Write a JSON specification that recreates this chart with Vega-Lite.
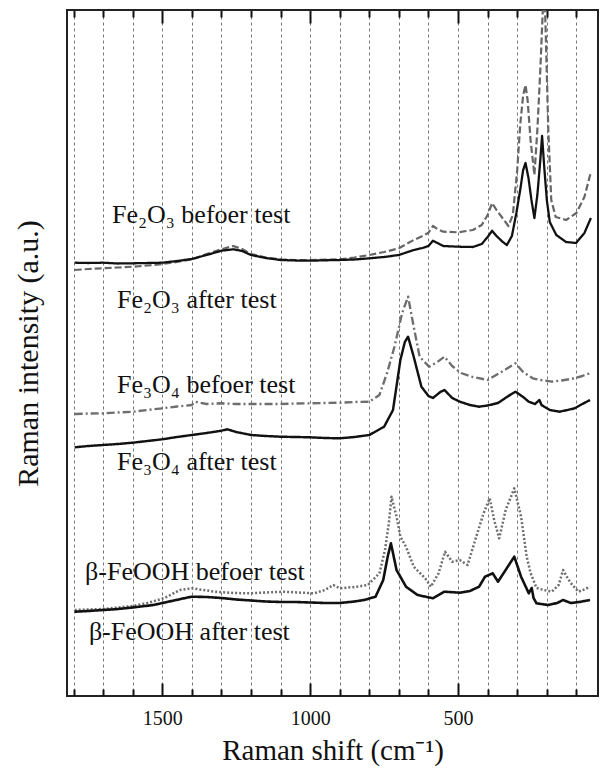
{
  "$schema": "https://vega.github.io/schema/vega-lite/v6.json",
  "width": 531,
  "height": 686,
  "autosize": {"type": "none"},
  "padding": {"left": 67, "top": 10, "right": 3, "bottom": 73},
  "background": "white",
  "config": {
    "view": {"stroke": "#222", "strokeWidth": 2},
    "font": "Times New Roman, Liberation Serif, serif"
  },
  "datasets": {
    "spectra": [
      {"s": "Fe2O3 before", "k": "before", "w": 1796, "v": 426},
      {"s": "Fe2O3 before", "k": "before", "w": 1750, "v": 427},
      {"s": "Fe2O3 before", "k": "before", "w": 1700, "v": 427.7},
      {"s": "Fe2O3 before", "k": "before", "w": 1650, "v": 428.5},
      {"s": "Fe2O3 before", "k": "before", "w": 1600, "v": 429.3},
      {"s": "Fe2O3 before", "k": "before", "w": 1550, "v": 430.5},
      {"s": "Fe2O3 before", "k": "before", "w": 1500, "v": 432},
      {"s": "Fe2O3 before", "k": "before", "w": 1450, "v": 434},
      {"s": "Fe2O3 before", "k": "before", "w": 1400, "v": 436.7},
      {"s": "Fe2O3 before", "k": "before", "w": 1350, "v": 442},
      {"s": "Fe2O3 before", "k": "before", "w": 1300, "v": 446.7},
      {"s": "Fe2O3 before", "k": "before", "w": 1260, "v": 450},
      {"s": "Fe2O3 before", "k": "before", "w": 1230, "v": 447},
      {"s": "Fe2O3 before", "k": "before", "w": 1200, "v": 442},
      {"s": "Fe2O3 before", "k": "before", "w": 1150, "v": 438.5},
      {"s": "Fe2O3 before", "k": "before", "w": 1100, "v": 436.7},
      {"s": "Fe2O3 before", "k": "before", "w": 1050, "v": 436},
      {"s": "Fe2O3 before", "k": "before", "w": 1000, "v": 436},
      {"s": "Fe2O3 before", "k": "before", "w": 950, "v": 436.3},
      {"s": "Fe2O3 before", "k": "before", "w": 900, "v": 436.7},
      {"s": "Fe2O3 before", "k": "before", "w": 850, "v": 438.5},
      {"s": "Fe2O3 before", "k": "before", "w": 800, "v": 441},
      {"s": "Fe2O3 before", "k": "before", "w": 750, "v": 444},
      {"s": "Fe2O3 before", "k": "before", "w": 700, "v": 447.7},
      {"s": "Fe2O3 before", "k": "before", "w": 650, "v": 456},
      {"s": "Fe2O3 before", "k": "before", "w": 620, "v": 460},
      {"s": "Fe2O3 before", "k": "before", "w": 600, "v": 463.3},
      {"s": "Fe2O3 before", "k": "before", "w": 585, "v": 470},
      {"s": "Fe2O3 before", "k": "before", "w": 570, "v": 467},
      {"s": "Fe2O3 before", "k": "before", "w": 550, "v": 464.3},
      {"s": "Fe2O3 before", "k": "before", "w": 500, "v": 463.7},
      {"s": "Fe2O3 before", "k": "before", "w": 450, "v": 466},
      {"s": "Fe2O3 before", "k": "before", "w": 420, "v": 471},
      {"s": "Fe2O3 before", "k": "before", "w": 400, "v": 481},
      {"s": "Fe2O3 before", "k": "before", "w": 385, "v": 493},
      {"s": "Fe2O3 before", "k": "before", "w": 370, "v": 486},
      {"s": "Fe2O3 before", "k": "before", "w": 350, "v": 478},
      {"s": "Fe2O3 before", "k": "before", "w": 330, "v": 470},
      {"s": "Fe2O3 before", "k": "before", "w": 315, "v": 481},
      {"s": "Fe2O3 before", "k": "before", "w": 300, "v": 526},
      {"s": "Fe2O3 before", "k": "before", "w": 290, "v": 571},
      {"s": "Fe2O3 before", "k": "before", "w": 280, "v": 601},
      {"s": "Fe2O3 before", "k": "before", "w": 272, "v": 611},
      {"s": "Fe2O3 before", "k": "before", "w": 265, "v": 596},
      {"s": "Fe2O3 before", "k": "before", "w": 255, "v": 556},
      {"s": "Fe2O3 before", "k": "before", "w": 242, "v": 521},
      {"s": "Fe2O3 before", "k": "before", "w": 232, "v": 566},
      {"s": "Fe2O3 before", "k": "before", "w": 222, "v": 626},
      {"s": "Fe2O3 before", "k": "before", "w": 215, "v": 676},
      {"s": "Fe2O3 before", "k": "before", "w": 209, "v": 716},
      {"s": "Fe2O3 before", "k": "before", "w": 203, "v": 656},
      {"s": "Fe2O3 before", "k": "before", "w": 195, "v": 566},
      {"s": "Fe2O3 before", "k": "before", "w": 185, "v": 496},
      {"s": "Fe2O3 before", "k": "before", "w": 170, "v": 479},
      {"s": "Fe2O3 before", "k": "before", "w": 135, "v": 476},
      {"s": "Fe2O3 before", "k": "before", "w": 100, "v": 483},
      {"s": "Fe2O3 before", "k": "before", "w": 73, "v": 499},
      {"s": "Fe2O3 before", "k": "before", "w": 51, "v": 524},

      {"s": "Fe2O3 after", "k": "after", "w": 1796, "v": 433.3},
      {"s": "Fe2O3 after", "k": "after", "w": 1750, "v": 433},
      {"s": "Fe2O3 after", "k": "after", "w": 1700, "v": 433.3},
      {"s": "Fe2O3 after", "k": "after", "w": 1650, "v": 432.5},
      {"s": "Fe2O3 after", "k": "after", "w": 1600, "v": 432.7},
      {"s": "Fe2O3 after", "k": "after", "w": 1550, "v": 433},
      {"s": "Fe2O3 after", "k": "after", "w": 1500, "v": 433.3},
      {"s": "Fe2O3 after", "k": "after", "w": 1450, "v": 435},
      {"s": "Fe2O3 after", "k": "after", "w": 1400, "v": 437},
      {"s": "Fe2O3 after", "k": "after", "w": 1350, "v": 441},
      {"s": "Fe2O3 after", "k": "after", "w": 1300, "v": 445.3},
      {"s": "Fe2O3 after", "k": "after", "w": 1260, "v": 446.7},
      {"s": "Fe2O3 after", "k": "after", "w": 1230, "v": 445},
      {"s": "Fe2O3 after", "k": "after", "w": 1200, "v": 441},
      {"s": "Fe2O3 after", "k": "after", "w": 1150, "v": 438},
      {"s": "Fe2O3 after", "k": "after", "w": 1100, "v": 436},
      {"s": "Fe2O3 after", "k": "after", "w": 1050, "v": 435.5},
      {"s": "Fe2O3 after", "k": "after", "w": 1000, "v": 435.3},
      {"s": "Fe2O3 after", "k": "after", "w": 950, "v": 435.7},
      {"s": "Fe2O3 after", "k": "after", "w": 900, "v": 436},
      {"s": "Fe2O3 after", "k": "after", "w": 850, "v": 436.5},
      {"s": "Fe2O3 after", "k": "after", "w": 800, "v": 437.7},
      {"s": "Fe2O3 after", "k": "after", "w": 750, "v": 439},
      {"s": "Fe2O3 after", "k": "after", "w": 700, "v": 441},
      {"s": "Fe2O3 after", "k": "after", "w": 650, "v": 446},
      {"s": "Fe2O3 after", "k": "after", "w": 620, "v": 448},
      {"s": "Fe2O3 after", "k": "after", "w": 600, "v": 450},
      {"s": "Fe2O3 after", "k": "after", "w": 585, "v": 455.3},
      {"s": "Fe2O3 after", "k": "after", "w": 570, "v": 453},
      {"s": "Fe2O3 after", "k": "after", "w": 550, "v": 450},
      {"s": "Fe2O3 after", "k": "after", "w": 500, "v": 449.3},
      {"s": "Fe2O3 after", "k": "after", "w": 450, "v": 449},
      {"s": "Fe2O3 after", "k": "after", "w": 420, "v": 452},
      {"s": "Fe2O3 after", "k": "after", "w": 400, "v": 459},
      {"s": "Fe2O3 after", "k": "after", "w": 385, "v": 465.3},
      {"s": "Fe2O3 after", "k": "after", "w": 370, "v": 460},
      {"s": "Fe2O3 after", "k": "after", "w": 350, "v": 454.3},
      {"s": "Fe2O3 after", "k": "after", "w": 335, "v": 451},
      {"s": "Fe2O3 after", "k": "after", "w": 318, "v": 460},
      {"s": "Fe2O3 after", "k": "after", "w": 303, "v": 483},
      {"s": "Fe2O3 after", "k": "after", "w": 290, "v": 506},
      {"s": "Fe2O3 after", "k": "after", "w": 280, "v": 526},
      {"s": "Fe2O3 after", "k": "after", "w": 272, "v": 533},
      {"s": "Fe2O3 after", "k": "after", "w": 262, "v": 518},
      {"s": "Fe2O3 after", "k": "after", "w": 252, "v": 496},
      {"s": "Fe2O3 after", "k": "after", "w": 242, "v": 478},
      {"s": "Fe2O3 after", "k": "after", "w": 232, "v": 501},
      {"s": "Fe2O3 after", "k": "after", "w": 222, "v": 536},
      {"s": "Fe2O3 after", "k": "after", "w": 216, "v": 560},
      {"s": "Fe2O3 after", "k": "after", "w": 208, "v": 526},
      {"s": "Fe2O3 after", "k": "after", "w": 200, "v": 496},
      {"s": "Fe2O3 after", "k": "after", "w": 190, "v": 474},
      {"s": "Fe2O3 after", "k": "after", "w": 168, "v": 461},
      {"s": "Fe2O3 after", "k": "after", "w": 135, "v": 454},
      {"s": "Fe2O3 after", "k": "after", "w": 101, "v": 453},
      {"s": "Fe2O3 after", "k": "after", "w": 73, "v": 463},
      {"s": "Fe2O3 after", "k": "after", "w": 51, "v": 478},

      {"s": "Fe3O4 before", "k": "before", "w": 1796, "v": 282},
      {"s": "Fe3O4 before", "k": "before", "w": 1750, "v": 282.5},
      {"s": "Fe3O4 before", "k": "before", "w": 1700, "v": 282.7},
      {"s": "Fe3O4 before", "k": "before", "w": 1650, "v": 283.5},
      {"s": "Fe3O4 before", "k": "before", "w": 1600, "v": 284.3},
      {"s": "Fe3O4 before", "k": "before", "w": 1550, "v": 286},
      {"s": "Fe3O4 before", "k": "before", "w": 1500, "v": 287.7},
      {"s": "Fe3O4 before", "k": "before", "w": 1450, "v": 289.5},
      {"s": "Fe3O4 before", "k": "before", "w": 1400, "v": 291},
      {"s": "Fe3O4 before", "k": "before", "w": 1390, "v": 294.3},
      {"s": "Fe3O4 before", "k": "before", "w": 1350, "v": 292},
      {"s": "Fe3O4 before", "k": "before", "w": 1300, "v": 292.7},
      {"s": "Fe3O4 before", "k": "before", "w": 1250, "v": 292},
      {"s": "Fe3O4 before", "k": "before", "w": 1200, "v": 292},
      {"s": "Fe3O4 before", "k": "before", "w": 1150, "v": 292},
      {"s": "Fe3O4 before", "k": "before", "w": 1100, "v": 292},
      {"s": "Fe3O4 before", "k": "before", "w": 1050, "v": 292.5},
      {"s": "Fe3O4 before", "k": "before", "w": 1000, "v": 292.7},
      {"s": "Fe3O4 before", "k": "before", "w": 950, "v": 293},
      {"s": "Fe3O4 before", "k": "before", "w": 900, "v": 293.3},
      {"s": "Fe3O4 before", "k": "before", "w": 850, "v": 294},
      {"s": "Fe3O4 before", "k": "before", "w": 800, "v": 294.3},
      {"s": "Fe3O4 before", "k": "before", "w": 766, "v": 301},
      {"s": "Fe3O4 before", "k": "before", "w": 740, "v": 323},
      {"s": "Fe3O4 before", "k": "before", "w": 715, "v": 349.3},
      {"s": "Fe3O4 before", "k": "before", "w": 689, "v": 383},
      {"s": "Fe3O4 before", "k": "before", "w": 669, "v": 399.3},
      {"s": "Fe3O4 before", "k": "before", "w": 650, "v": 369.3},
      {"s": "Fe3O4 before", "k": "before", "w": 630, "v": 339.3},
      {"s": "Fe3O4 before", "k": "before", "w": 598, "v": 329.3},
      {"s": "Fe3O4 before", "k": "before", "w": 570, "v": 334},
      {"s": "Fe3O4 before", "k": "before", "w": 546, "v": 339.3},
      {"s": "Fe3O4 before", "k": "before", "w": 520, "v": 330},
      {"s": "Fe3O4 before", "k": "before", "w": 490, "v": 323},
      {"s": "Fe3O4 before", "k": "before", "w": 450, "v": 319},
      {"s": "Fe3O4 before", "k": "before", "w": 400, "v": 316},
      {"s": "Fe3O4 before", "k": "before", "w": 352, "v": 324.3},
      {"s": "Fe3O4 before", "k": "before", "w": 306, "v": 332.7},
      {"s": "Fe3O4 before", "k": "before", "w": 280, "v": 324},
      {"s": "Fe3O4 before", "k": "before", "w": 248, "v": 317.7},
      {"s": "Fe3O4 before", "k": "before", "w": 220, "v": 316},
      {"s": "Fe3O4 before", "k": "before", "w": 183, "v": 314.3},
      {"s": "Fe3O4 before", "k": "before", "w": 150, "v": 315.5},
      {"s": "Fe3O4 before", "k": "before", "w": 106, "v": 317.7},
      {"s": "Fe3O4 before", "k": "before", "w": 80, "v": 320},
      {"s": "Fe3O4 before", "k": "before", "w": 54, "v": 322.7},

      {"s": "Fe3O4 after", "k": "after", "w": 1796, "v": 248.7},
      {"s": "Fe3O4 after", "k": "after", "w": 1750, "v": 250},
      {"s": "Fe3O4 after", "k": "after", "w": 1700, "v": 251},
      {"s": "Fe3O4 after", "k": "after", "w": 1650, "v": 252},
      {"s": "Fe3O4 after", "k": "after", "w": 1600, "v": 253.3},
      {"s": "Fe3O4 after", "k": "after", "w": 1550, "v": 255},
      {"s": "Fe3O4 after", "k": "after", "w": 1500, "v": 256.7},
      {"s": "Fe3O4 after", "k": "after", "w": 1450, "v": 259},
      {"s": "Fe3O4 after", "k": "after", "w": 1400, "v": 261},
      {"s": "Fe3O4 after", "k": "after", "w": 1350, "v": 263},
      {"s": "Fe3O4 after", "k": "after", "w": 1300, "v": 265.3},
      {"s": "Fe3O4 after", "k": "after", "w": 1280, "v": 266.7},
      {"s": "Fe3O4 after", "k": "after", "w": 1250, "v": 264},
      {"s": "Fe3O4 after", "k": "after", "w": 1200, "v": 261},
      {"s": "Fe3O4 after", "k": "after", "w": 1150, "v": 260},
      {"s": "Fe3O4 after", "k": "after", "w": 1100, "v": 259.3},
      {"s": "Fe3O4 after", "k": "after", "w": 1050, "v": 259},
      {"s": "Fe3O4 after", "k": "after", "w": 1000, "v": 258.7},
      {"s": "Fe3O4 after", "k": "after", "w": 950, "v": 258},
      {"s": "Fe3O4 after", "k": "after", "w": 900, "v": 257.7},
      {"s": "Fe3O4 after", "k": "after", "w": 850, "v": 259},
      {"s": "Fe3O4 after", "k": "after", "w": 800, "v": 261},
      {"s": "Fe3O4 after", "k": "after", "w": 750, "v": 269.3},
      {"s": "Fe3O4 after", "k": "after", "w": 720, "v": 286},
      {"s": "Fe3O4 after", "k": "after", "w": 708, "v": 310},
      {"s": "Fe3O4 after", "k": "after", "w": 695, "v": 336},
      {"s": "Fe3O4 after", "k": "after", "w": 680, "v": 354},
      {"s": "Fe3O4 after", "k": "after", "w": 669, "v": 359.3},
      {"s": "Fe3O4 after", "k": "after", "w": 650, "v": 339.3},
      {"s": "Fe3O4 after", "k": "after", "w": 624, "v": 309.3},
      {"s": "Fe3O4 after", "k": "after", "w": 600, "v": 300},
      {"s": "Fe3O4 after", "k": "after", "w": 585, "v": 298},
      {"s": "Fe3O4 after", "k": "after", "w": 560, "v": 304},
      {"s": "Fe3O4 after", "k": "after", "w": 546, "v": 306},
      {"s": "Fe3O4 after", "k": "after", "w": 520, "v": 298},
      {"s": "Fe3O4 after", "k": "after", "w": 494, "v": 294.3},
      {"s": "Fe3O4 after", "k": "after", "w": 460, "v": 291},
      {"s": "Fe3O4 after", "k": "after", "w": 429, "v": 289.3},
      {"s": "Fe3O4 after", "k": "after", "w": 400, "v": 290.5},
      {"s": "Fe3O4 after", "k": "after", "w": 365, "v": 293},
      {"s": "Fe3O4 after", "k": "after", "w": 330, "v": 300},
      {"s": "Fe3O4 after", "k": "after", "w": 306, "v": 304.3},
      {"s": "Fe3O4 after", "k": "after", "w": 280, "v": 299},
      {"s": "Fe3O4 after", "k": "after", "w": 261, "v": 294.3},
      {"s": "Fe3O4 after", "k": "after", "w": 240, "v": 292},
      {"s": "Fe3O4 after", "k": "after", "w": 225, "v": 296},
      {"s": "Fe3O4 after", "k": "after", "w": 218, "v": 291},
      {"s": "Fe3O4 after", "k": "after", "w": 190, "v": 286},
      {"s": "Fe3O4 after", "k": "after", "w": 157, "v": 284.3},
      {"s": "Fe3O4 after", "k": "after", "w": 130, "v": 286},
      {"s": "Fe3O4 after", "k": "after", "w": 106, "v": 287.7},
      {"s": "Fe3O4 after", "k": "after", "w": 80, "v": 292},
      {"s": "Fe3O4 after", "k": "after", "w": 54, "v": 296},

      {"s": "FeOOH before", "k": "before", "w": 1796, "v": 86},
      {"s": "FeOOH before", "k": "before", "w": 1750, "v": 86.5},
      {"s": "FeOOH before", "k": "before", "w": 1700, "v": 87},
      {"s": "FeOOH before", "k": "before", "w": 1650, "v": 88.5},
      {"s": "FeOOH before", "k": "before", "w": 1600, "v": 90},
      {"s": "FeOOH before", "k": "before", "w": 1550, "v": 93},
      {"s": "FeOOH before", "k": "before", "w": 1492, "v": 98},
      {"s": "FeOOH before", "k": "before", "w": 1440, "v": 106},
      {"s": "FeOOH before", "k": "before", "w": 1401, "v": 107.7},
      {"s": "FeOOH before", "k": "before", "w": 1360, "v": 106},
      {"s": "FeOOH before", "k": "before", "w": 1323, "v": 104.3},
      {"s": "FeOOH before", "k": "before", "w": 1260, "v": 103},
      {"s": "FeOOH before", "k": "before", "w": 1207, "v": 102.7},
      {"s": "FeOOH before", "k": "before", "w": 1150, "v": 103.5},
      {"s": "FeOOH before", "k": "before", "w": 1090, "v": 104.3},
      {"s": "FeOOH before", "k": "before", "w": 1040, "v": 103.5},
      {"s": "FeOOH before", "k": "before", "w": 987, "v": 102.7},
      {"s": "FeOOH before", "k": "before", "w": 950, "v": 106},
      {"s": "FeOOH before", "k": "before", "w": 922, "v": 111},
      {"s": "FeOOH before", "k": "before", "w": 900, "v": 107.7},
      {"s": "FeOOH before", "k": "before", "w": 850, "v": 109},
      {"s": "FeOOH before", "k": "before", "w": 805, "v": 111},
      {"s": "FeOOH before", "k": "before", "w": 766, "v": 122.7},
      {"s": "FeOOH before", "k": "before", "w": 747, "v": 146},
      {"s": "FeOOH before", "k": "before", "w": 734, "v": 173},
      {"s": "FeOOH before", "k": "before", "w": 725, "v": 199.3},
      {"s": "FeOOH before", "k": "before", "w": 708, "v": 179.3},
      {"s": "FeOOH before", "k": "before", "w": 695, "v": 159.3},
      {"s": "FeOOH before", "k": "before", "w": 676, "v": 149.3},
      {"s": "FeOOH before", "k": "before", "w": 650, "v": 129.3},
      {"s": "FeOOH before", "k": "before", "w": 611, "v": 117.7},
      {"s": "FeOOH before", "k": "before", "w": 592, "v": 109.3},
      {"s": "FeOOH before", "k": "before", "w": 566, "v": 122.7},
      {"s": "FeOOH before", "k": "before", "w": 544, "v": 144.3},
      {"s": "FeOOH before", "k": "before", "w": 520, "v": 134.3},
      {"s": "FeOOH before", "k": "before", "w": 494, "v": 136},
      {"s": "FeOOH before", "k": "before", "w": 468, "v": 131},
      {"s": "FeOOH before", "k": "before", "w": 442, "v": 156},
      {"s": "FeOOH before", "k": "before", "w": 414, "v": 182.7},
      {"s": "FeOOH before", "k": "before", "w": 393, "v": 197.7},
      {"s": "FeOOH before", "k": "before", "w": 378, "v": 176},
      {"s": "FeOOH before", "k": "before", "w": 361, "v": 157.7},
      {"s": "FeOOH before", "k": "before", "w": 339, "v": 186},
      {"s": "FeOOH before", "k": "before", "w": 310, "v": 207.7},
      {"s": "FeOOH before", "k": "before", "w": 287, "v": 179.3},
      {"s": "FeOOH before", "k": "before", "w": 268, "v": 139.3},
      {"s": "FeOOH before", "k": "before", "w": 255, "v": 123},
      {"s": "FeOOH before", "k": "before", "w": 235, "v": 108},
      {"s": "FeOOH before", "k": "before", "w": 210, "v": 106},
      {"s": "FeOOH before", "k": "before", "w": 183, "v": 104.3},
      {"s": "FeOOH before", "k": "before", "w": 160, "v": 111},
      {"s": "FeOOH before", "k": "before", "w": 145, "v": 126},
      {"s": "FeOOH before", "k": "before", "w": 130, "v": 118},
      {"s": "FeOOH before", "k": "before", "w": 119, "v": 113},
      {"s": "FeOOH before", "k": "before", "w": 93, "v": 104.3},
      {"s": "FeOOH before", "k": "before", "w": 70, "v": 107},
      {"s": "FeOOH before", "k": "before", "w": 54, "v": 109.3},

      {"s": "FeOOH after", "k": "after", "w": 1796, "v": 84.3},
      {"s": "FeOOH after", "k": "after", "w": 1750, "v": 85},
      {"s": "FeOOH after", "k": "after", "w": 1700, "v": 86},
      {"s": "FeOOH after", "k": "after", "w": 1660, "v": 86.7},
      {"s": "FeOOH after", "k": "after", "w": 1600, "v": 88.5},
      {"s": "FeOOH after", "k": "after", "w": 1530, "v": 91},
      {"s": "FeOOH after", "k": "after", "w": 1453, "v": 96},
      {"s": "FeOOH after", "k": "after", "w": 1401, "v": 99.3},
      {"s": "FeOOH after", "k": "after", "w": 1350, "v": 99},
      {"s": "FeOOH after", "k": "after", "w": 1300, "v": 98},
      {"s": "FeOOH after", "k": "after", "w": 1250, "v": 96.5},
      {"s": "FeOOH after", "k": "after", "w": 1200, "v": 95.5},
      {"s": "FeOOH after", "k": "after", "w": 1150, "v": 94.5},
      {"s": "FeOOH after", "k": "after", "w": 1100, "v": 94},
      {"s": "FeOOH after", "k": "after", "w": 1050, "v": 94},
      {"s": "FeOOH after", "k": "after", "w": 1000, "v": 93.5},
      {"s": "FeOOH after", "k": "after", "w": 950, "v": 93},
      {"s": "FeOOH after", "k": "after", "w": 900, "v": 93},
      {"s": "FeOOH after", "k": "after", "w": 850, "v": 94.5},
      {"s": "FeOOH after", "k": "after", "w": 818, "v": 96},
      {"s": "FeOOH after", "k": "after", "w": 779, "v": 99.3},
      {"s": "FeOOH after", "k": "after", "w": 753, "v": 116},
      {"s": "FeOOH after", "k": "after", "w": 738, "v": 139.3},
      {"s": "FeOOH after", "k": "after", "w": 727, "v": 152.7},
      {"s": "FeOOH after", "k": "after", "w": 708, "v": 126},
      {"s": "FeOOH after", "k": "after", "w": 676, "v": 109.3},
      {"s": "FeOOH after", "k": "after", "w": 637, "v": 101},
      {"s": "FeOOH after", "k": "after", "w": 585, "v": 97.7},
      {"s": "FeOOH after", "k": "after", "w": 546, "v": 104.3},
      {"s": "FeOOH after", "k": "after", "w": 494, "v": 103.3},
      {"s": "FeOOH after", "k": "after", "w": 460, "v": 105},
      {"s": "FeOOH after", "k": "after", "w": 429, "v": 109.3},
      {"s": "FeOOH after", "k": "after", "w": 409, "v": 119.3},
      {"s": "FeOOH after", "k": "after", "w": 383, "v": 122.7},
      {"s": "FeOOH after", "k": "after", "w": 365, "v": 114.3},
      {"s": "FeOOH after", "k": "after", "w": 332, "v": 129.3},
      {"s": "FeOOH after", "k": "after", "w": 310, "v": 139.3},
      {"s": "FeOOH after", "k": "after", "w": 287, "v": 119.3},
      {"s": "FeOOH after", "k": "after", "w": 261, "v": 102.7},
      {"s": "FeOOH after", "k": "after", "w": 251, "v": 108},
      {"s": "FeOOH after", "k": "after", "w": 245, "v": 98},
      {"s": "FeOOH after", "k": "after", "w": 235, "v": 92.7},
      {"s": "FeOOH after", "k": "after", "w": 196, "v": 91},
      {"s": "FeOOH after", "k": "after", "w": 165, "v": 93},
      {"s": "FeOOH after", "k": "after", "w": 145, "v": 96},
      {"s": "FeOOH after", "k": "after", "w": 119, "v": 93},
      {"s": "FeOOH after", "k": "after", "w": 90, "v": 94},
      {"s": "FeOOH after", "k": "after", "w": 54, "v": 96}
    ],
    "labels": [
      {"t": "Fe₂O₃ befoer test", "w": 1670, "v": 473},
      {"t": "Fe₂O₃ after test", "w": 1653, "v": 388},
      {"t": "Fe₃O₄ befoer test", "w": 1653, "v": 303},
      {"t": "Fe₃O₄ after test", "w": 1653, "v": 226},
      {"t": "β-FeOOH befoer test", "w": 1761, "v": 116},
      {"t": "β-FeOOH after test", "w": 1748, "v": 56}
    ]
  },
  "resolve": {"axis": {"x": "independent"}},
  "layer": [
    {
      "data": {"name": "spectra"},
      "encoding": {
        "x": {
          "field": "w", "type": "quantitative",
          "scale": {"domain": [27, 1822], "reverse": true, "nice": false, "zero": false},
          "axis": {
            "orient": "bottom",
            "values": [1800, 1700, 1600, 1500, 1400, 1300, 1200, 1100, 1000, 900, 800, 700, 600, 500, 400, 300, 200, 100],
            "labelExpr": "datum.value % 500 === 0 ? datum.value : ''",
            "labelFont": "Times New Roman, Liberation Serif, serif", "labelFontSize": 20, "labelColor": "#111",
            "labelPadding": 25, "labelFlush": false, "labelOverlap": false,
            "domain": false,
            "ticks": true,
            "tickSize": {"condition": {"test": "datum.value % 500 === 0", "value": -13}, "value": -7},
            "tickColor": "#111", "tickWidth": 2,
            "grid": true, "gridDash": [3, 3], "gridColor": "#777", "gridWidth": 1,
            "title": "Raman shift (cm⁻¹)",
            "titleFont": "Times New Roman, Liberation Serif, serif", "titleFontSize": 29, "titleFontWeight": "normal",
            "titleColor": "#111", "titlePadding": 2
          }
        },
        "y": {
          "field": "v", "type": "quantitative",
          "scale": {"domain": [0, 686], "nice": false, "zero": false},
          "axis": {
            "labels": false, "ticks": false, "domain": false, "grid": false,
            "title": "Raman intensity (a.u.)",
            "titleFont": "Times New Roman, Liberation Serif, serif", "titleFontSize": 30, "titleFontWeight": "normal",
            "titleColor": "#111", "titlePadding": 24
          }
        },
        "color": {
          "field": "s", "type": "nominal", "legend": null,
          "scale": {
            "domain": ["Fe2O3 before", "Fe2O3 after", "Fe3O4 before", "Fe3O4 after", "FeOOH before", "FeOOH after"],
            "range": ["#666666", "#111111", "#6e6e6e", "#111111", "#6e6e6e", "#111111"]
          }
        },
        "strokeDash": {
          "field": "s", "type": "nominal", "legend": null,
          "scale": {
            "domain": ["Fe2O3 before", "Fe2O3 after", "Fe3O4 before", "Fe3O4 after", "FeOOH before", "FeOOH after"],
            "range": [[7, 3], [1, 0], [8, 3, 2, 3], [1, 0], [2, 2], [1, 0]]
          }
        },
        "strokeWidth": {
          "field": "s", "type": "nominal", "legend": null,
          "scale": {
            "domain": ["Fe2O3 before", "Fe2O3 after", "Fe3O4 before", "Fe3O4 after", "FeOOH before", "FeOOH after"],
            "range": [2.2, 2.6, 2.2, 2.6, 2, 2.6]
          }
        }
      },
      "layer": [
        {"transform": [{"filter": "datum.k === 'before'"}], "mark": {"type": "line", "clip": true, "strokeJoin": "round"}},
        {"transform": [{"filter": "datum.k === 'after'"}], "mark": {"type": "line", "clip": true, "strokeJoin": "round"}}
      ]
    },
    {
      "data": {"name": "labels"},
      "mark": {"type": "text", "align": "left", "baseline": "alphabetic", "font": "Times New Roman, Liberation Serif, serif", "fontSize": 26, "color": "#111"},
      "encoding": {
        "x": {
          "field": "w", "type": "quantitative",
          "axis": {
            "orient": "top",
            "values": [1800, 1700, 1600, 1500, 1400, 1300, 1200, 1100, 1000, 900, 800, 700, 600, 500, 400, 300, 200, 100],
            "labels": false, "domain": false, "grid": false,
            "tickSize": {"condition": {"test": "datum.value % 500 === 0", "value": -13}, "value": -7},
            "tickColor": "#111", "tickWidth": 2,
            "title": null
          }
        },
        "y": {
          "field": "v", "type": "quantitative",
          "axis": {
            "labels": false, "ticks": false, "domain": false, "grid": false,
            "title": "Raman intensity (a.u.)",
            "titleFont": "Times New Roman, Liberation Serif, serif", "titleFontSize": 30, "titleFontWeight": "normal",
            "titleColor": "#111", "titlePadding": 24
          }
        },
        "text": {"field": "t", "type": "nominal"}
      }
    }
  ]
}
